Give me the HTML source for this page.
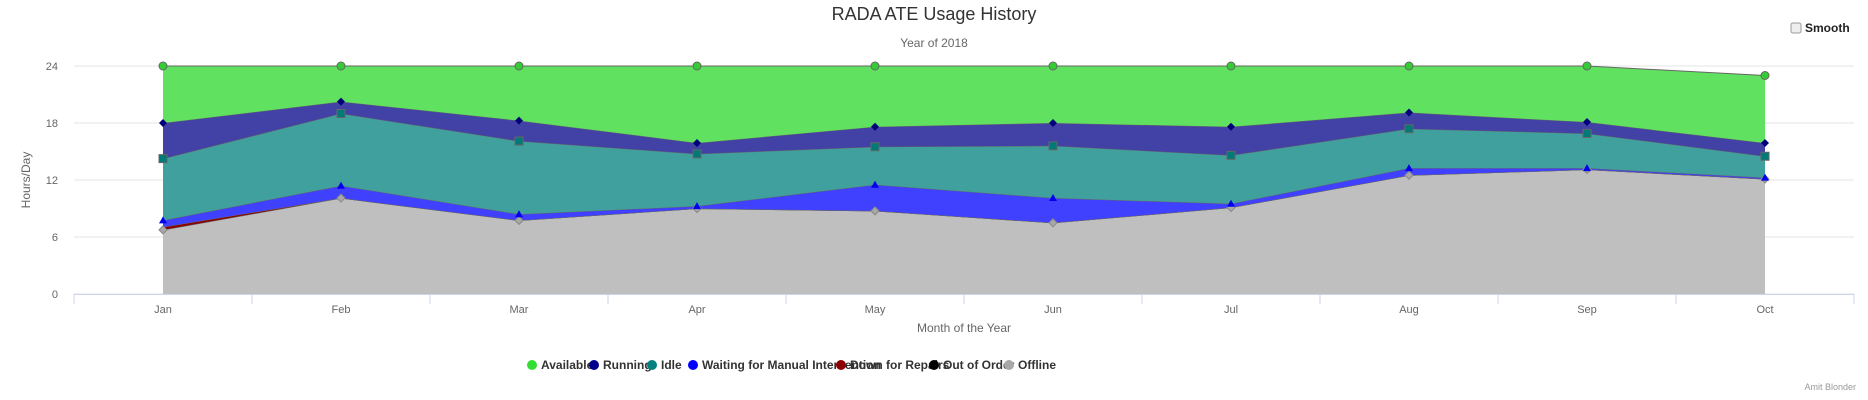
<!DOCTYPE html>
<html><head><meta charset="utf-8"><style>
body{margin:0;background:#fff;font-family:"Liberation Sans",sans-serif}
svg{display:block}
</style></head><body>
<svg id="chart" width="1868" height="400" xmlns="http://www.w3.org/2000/svg">
<text x="934" y="20" text-anchor="middle" font-size="18" fill="#333">RADA ATE Usage History</text>
<text x="934" y="47" text-anchor="middle" font-size="12" fill="#666">Year of 2018</text>
<g>
<rect x="1791" y="23" width="10" height="10" rx="2" fill="#eee" stroke="#999"/>
<text x="1805" y="32" font-size="12" font-weight="bold" fill="#222">Smooth</text>
</g>
<g id="grid"></g>
<g id="areas"></g>
<g id="axes"></g>
<text transform="translate(30,180) rotate(-90)" text-anchor="middle" font-size="12" fill="#666">Hours/Day</text>
<text x="964" y="332" text-anchor="middle" font-size="12" fill="#666">Month of the Year</text>
<g id="legend"></g>
<text x="1856" y="390" text-anchor="end" font-size="9" fill="#999">Amit Blonder</text>
</svg>
<script>
const categories=["Jan","Feb","Mar","Apr","May","Jun","Jul","Aug","Sep","Oct"];
const offline=[6.75,10.1,7.75,9,8.75,7.5,9.1,12.5,13.1,12.1];
const outOfOrder=[0,0,0,0,0,0,0,0,0,0];
const downForRepairs=[0.3,0,0,0,0,0,0,0,0,0];
const waiting=[0.7,1.3,0.65,0.25,2.75,2.6,0.4,0.75,0.15,0.15];
const idle=[6.5,7.6,7.7,5.5,4,5.5,5.1,4.15,3.65,2.25];
const running=[3.75,1.25,2.15,1.15,2.1,2.4,3,1.7,1.2,1.4];
const available=[6,3.75,5.75,8.1,6.4,6,6.4,4.9,5.9,7.1];
const yTicks=[0,6,12,18,24];
const NS="http://www.w3.org/2000/svg";
const L=74,R=1854,T=66,B=294,yMax=24;
const cw=(R-L)/categories.length;
const x=i=>L+cw*(i+0.5);
const y=v=>B-(v/yMax)*(B-T);
function mk(tag,attrs,parent){const e=document.createElementNS(NS,tag);for(const k in attrs)e.setAttribute(k,attrs[k]);parent.appendChild(e);return e;}
const grid=document.getElementById('grid'),axes=document.getElementById('axes'),areas=document.getElementById('areas'),legend=document.getElementById('legend');
yTicks.forEach(t=>{
 const ln=mk('line',{x1:L,x2:R,y1:y(t),y2:y(t),stroke:'#e6e6e6'},grid);
 
 
 const tx=mk('text',{x:58,y:y(t)+4,'text-anchor':'end','font-size':11,fill:'#666'},axes);
 tx.textContent=t;
 
 
});
const ax=mk('line',{x1:L,x2:R,y1:B+0.5,y2:B+0.5,stroke:'#ccd6eb'},axes);


for(let i=0;i<=categories.length;i++){
 const tk=mk('line',{x1:L+cw*i,x2:L+cw*i,y1:B,y2:B+10,stroke:'#ccd6eb'},axes);
 
 
}
categories.forEach((c,i)=>{
 const tx=mk('text',{x:x(i),y:313,'text-anchor':'middle','font-size':11,fill:'#666'},axes);
 tx.textContent=c;
 
 
});
const series=[
 {name:'Offline',d:offline,fill:'#bfbfbf',mk:'#a8a8a8',shape:'diamond'},
 {name:'Out of Order',d:outOfOrder,fill:'#000',mk:'#000',shape:'none'},
 {name:'Down for Repairs',d:downForRepairs,fill:'#8b0000',mk:'#8b0000',shape:'none'},
 {name:'Waiting for Manual Intervention',d:waiting,fill:'#4040ff',mk:'#0000ee',shape:'triangle'},
 {name:'Idle',d:idle,fill:'#40a09e',mk:'#007a78',shape:'square'},
 {name:'Running',d:running,fill:'#4242a6',mk:'#00007a',shape:'diamond'},
 {name:'Available',d:available,fill:'#60e260',mk:'#33cc33',shape:'circle'}
];
let base=categories.map(()=>0);
const markerLayer=[];
series.forEach(s=>{
 const top=base.map((b,i)=>b+s.d[i]);
 let p='M'+categories.map((c,i)=>x(i)+','+y(top[i])).join(' L');
 for(let i=categories.length-1;i>=0;i--)p+=' L'+x(i)+','+y(base[i]);
 p+=' Z';
 const a=mk('path',{d:p,fill:s.fill,stroke:'none'},areas);
 
 
 const ln=mk('path',{d:'M'+categories.map((c,i)=>x(i)+','+y(top[i])).join(' L'),fill:'none',stroke:'#666','stroke-width':1},areas);
 
 
 markerLayer.push({s,top});
 base=top;
});
markerLayer.forEach(({s,top})=>{
 if(s.shape==='none')return;
 top.forEach((v,i)=>{
  const cx=x(i),cy=y(v);let m;
  if(s.shape==='circle')m=mk('circle',{cx,cy,r:4,fill:s.mk,stroke:'#666'},areas);
  else if(s.shape==='square')m=mk('rect',{x:cx-4,y:cy-4,width:8,height:8,fill:s.mk,stroke:'#666'},areas);
  else if(s.shape==='triangle')m=mk('path',{d:`M${cx},${cy-4} L${cx+4},${cy+3} L${cx-4},${cy+3} Z`,fill:s.mk},areas);
  else m=mk('path',{d:`M${cx},${cy-4} L${cx+4},${cy} L${cx},${cy+4} L${cx-4},${cy} Z`,fill:s.mk,stroke:s.name==='Offline'?'#888':'none'},areas);
  
  
 });
});
const legendItems=[["Available","#33dd33",532],["Running","#00008b",594],["Idle","#008080",652],["Waiting for Manual Intervention","#0000ff",693],["Down for Repairs","#8b0000",841],["Out of Order","#000000",934],["Offline","#a8a8a8",1009]];
legendItems.forEach(([n,c,lx])=>{
 const g=mk('g',{},legend);
 
 
 mk('circle',{cx:lx,cy:365,r:5,fill:c},g);
 const t=mk('text',{x:lx+9,y:369,'font-size':12,'font-weight':'bold',fill:'#333'},g);
 t.textContent=n;
});
</script>
</body></html>
